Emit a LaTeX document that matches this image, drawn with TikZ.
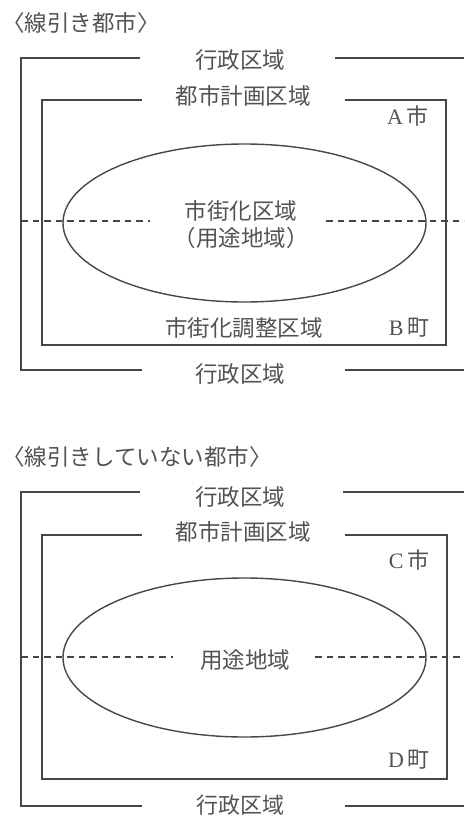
\documentclass[tikz,border=0pt]{standalone}
\usepackage{fontspec}
\setmainfont{Liberation Serif}
\newfontfamily\jp{Noto Sans CJK JP}
\begin{document}
\begin{tikzpicture}[x=1pt,y=-1pt,
  frame/.style={line width=1.4pt, draw=black!72},
  dashline/.style={line width=1.4pt, draw=black!72, dash pattern=on 6.5pt off 5pt},
  lbl/.style={font=\jp\fontsize{22.5}{27}\selectfont, text=black!68, inner sep=0pt, align=center},
  ttl/.style={lbl, anchor=west},
  town/.style={font=\fontsize{22}{26}\selectfont, text=black!68, inner sep=0pt},
  ]
\useasboundingbox (0,0) rectangle (464,818);

% ---------- upper diagram ----------
\node[ttl] (t1) at (2,23) {〈線引き都市〉};
\node[lbl] (g1t) at (240,60) {行政区域};
\node[lbl] (g1b) at (240,374) {行政区域};
\node[lbl] (p1) at (243,96) {都市計画区域};
\node[town] (a) at (408,116) {A\,{\jp 市}};
\node[town] (b) at (409,328) {B\,{\jp 町}};
\node[lbl] (ch) at (244,328) {市街化調整区域};
\node[lbl] (sg) at (241,225) {市街化区域\\（用途地域）};

\draw[frame] (140,58) -- (21,58) -- (21,370) -- (142,370);
\draw[frame] (335,58) -- (464,58);
\draw[frame] (345,370) -- (464,370);
\draw[frame] (142,100) -- (42,100) -- (42,345) -- (446,345) -- (446,100) -- (345,100);
\draw[frame] (244.5,223) ellipse [x radius=181.5pt, y radius=79pt];
\draw[dashline] (21,221) -- (150,221);
\draw[dashline] (326,221) -- (464,221);

% ---------- lower diagram ----------
\node[ttl] (t2) at (2,457) {〈線引きしていない都市〉};
\node[lbl] (g2t) at (240,497) {行政区域};
\node[lbl, font=\jp\fontsize{22}{26}\selectfont] (g2b) at (240,805.5) {行政区域};
\node[lbl] (p2) at (243,532) {都市計画区域};
\node[town] (c) at (409,560) {C\,{\jp 市}};
\node[town] (d) at (409,760) {D\,{\jp 町}};
\node[lbl] (yt) at (245,660) {用途地域};

\draw[frame] (140,492) -- (21,492) -- (21,806) -- (142,806);
\draw[frame] (343,492) -- (464,492);
\draw[frame] (345,806) -- (464,806);
\draw[frame] (142,535) -- (42,535) -- (42,779) -- (447,779) -- (447,535) -- (345,535);
\draw[frame] (244.5,657.5) ellipse [x radius=181.5pt, y radius=79.5pt];
\draw[dashline] (21,657) -- (173,657);
\draw[dashline] (315,657) -- (464,657);
\end{tikzpicture}
\end{document}
